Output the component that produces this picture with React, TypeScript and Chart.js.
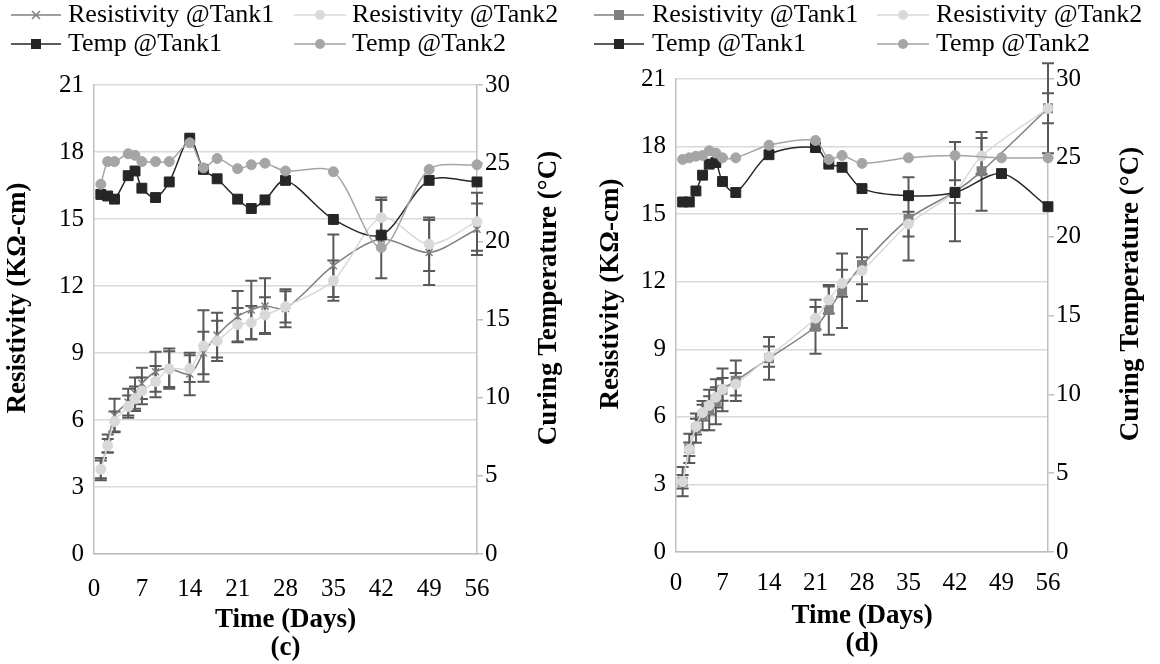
import React, { useEffect, useRef } from 'react';
import { Chart, registerables } from 'chart.js';

Chart.register(...registerables);

// ---------- data ----------
const xTickValues = [0, 7, 14, 21, 28, 35, 42, 49, 56];
const leftTickValues = [0, 3, 6, 9, 12, 15, 18, 21];
const rightTickValues = [0, 5, 10, 15, 20, 25, 30];

const seriesNames = ['Resistivity @Tank1', 'Resistivity @Tank2', 'Temp @Tank1', 'Temp @Tank2'];

// panel (c)
const daysC = [1, 2, 3, 5, 6, 7, 9, 11, 14, 16, 18, 21, 23, 25, 28, 35, 42, 49, 56];
const resC1 = [3.8, 4.95, 6.2, 6.8, 7.2, 7.64, 8.16, 8.3, 8.06, 9.0, 9.8, 10.63, 10.93, 11.1, 11.0, 12.91, 14.1, 13.5, 14.54];
const resC2 = [3.79, 4.85, 5.93, 6.6, 6.95, 7.3, 7.72, 8.28, 8.3, 9.31, 9.54, 10.27, 10.36, 10.7, 11.07, 12.24, 15.06, 13.87, 14.88];
const errC1 = [0.5, 0.4, 0.75, 0.6, 0.7, 0.7, 0.9, 0.9, 0.95, 0.95, 1.0, 1.15, 1.3, 1.25, 0.85, 1.4, 1.75, 1.45, 1.15];
const errC2 = [0.4, 0.3, 0.45, 0.5, 0.55, 0.6, 0.7, 0.8, 0.6, 1.6, 0.9, 0.75, 0.75, 0.8, 0.7, 0.9, 0.9, 1.2, 1.3];
const tempC1 = [23.0, 22.9, 22.7, 24.2, 24.5, 23.4, 22.8, 23.8, 26.6, 24.6, 24.0, 22.7, 22.1, 22.65, 23.9, 21.4, 20.4, 23.9, 23.8];
const tempC2 = [23.65, 25.1, 25.1, 25.6, 25.5, 25.1, 25.1, 25.1, 26.3, 24.7, 25.3, 24.65, 24.9, 25.0, 24.5, 24.45, 19.6, 24.6, 24.9];

// panel (d)
const daysDRes = [1, 2, 3, 4, 5, 6, 7, 9, 14, 21, 23, 25, 28, 35, 42, 46, 56];
const resD1 = [3.12, 4.6, 5.5, 6.05, 6.3, 6.67, 7.2, 7.6, 8.6, 10.0, 10.75, 11.6, 12.74, 14.79, 16.0, 16.9, 19.7];
const resD2 = [3.12, 4.56, 5.57, 6.19, 6.51, 6.87, 7.22, 7.45, 8.67, 10.38, 11.19, 11.93, 12.49, 14.56, 16.0, 17.58, 19.7];
const errD1 = [0.65, 0.65, 0.65, 0.65, 0.9, 1.0, 0.95, 0.9, 0.95, 1.2, 1.1, 1.65, 1.6, 1.85, 2.2, 1.75, 2.0];
const errD2 = [0.3, 0.3, 0.35, 0.35, 0.4, 0.45, 0.5, 0.5, 0.45, 0.5, 0.6, 0.6, 0.6, 0.55, 0.5, 0.8, 0.67];
const daysDTemp = [1, 2, 3, 4, 5, 6, 7, 9, 14, 21, 23, 25, 28, 35, 42, 49, 56];
const tempD1 = [22.2, 22.2, 22.9, 23.9, 24.6, 24.7, 23.5, 22.8, 25.2, 25.65, 24.6, 24.4, 23.05, 22.6, 22.8, 24.0, 21.9];
const tempD2 = [24.9, 25.0, 25.1, 25.15, 25.45, 25.3, 25.0, 25.0, 25.8, 26.1, 24.9, 25.15, 24.65, 25.0, 25.15, 25.0, 25.0];

// ---------- styles ----------
const FONT = '"Liberation Serif", "Times New Roman", serif';
const C_R1 = '#7f7f7f';
const C_R2 = '#d9d9d9';
const C_T1 = '#262626';
const C_T2 = '#a5a5a5';
const C_ERR = '#595959';
const C_GRID = '#d9d9d9';
const C_AXIS = '#bfbfbf';

const pts = (xs: number[], ys: number[]) => xs.map((x, i) => ({ x, y: ys[i] }));

const errorBarPlugin = {
  id: 'errorBars',
  beforeDatasetsDraw(chart: any) {
    const ctx = chart.ctx;
    chart.data.datasets.forEach((ds: any) => {
      const errs: number[] | undefined = ds.errors;
      if (!errs) return;
      const ys = chart.scales[ds.yAxisID];
      const xs = chart.scales.x;
      ctx.save();
      ctx.strokeStyle = C_ERR;
      ctx.lineWidth = 2;
      ds.data.forEach((p: any, j: number) => {
        const x = xs.getPixelForValue(p.x);
        const yt = ys.getPixelForValue(p.y + errs[j]);
        const yb = ys.getPixelForValue(p.y - errs[j]);
        ctx.beginPath();
        ctx.moveTo(x, yt); ctx.lineTo(x, yb);
        ctx.moveTo(x - 6, yt); ctx.lineTo(x + 6, yt);
        ctx.moveTo(x - 6, yb); ctx.lineTo(x + 6, yb);
        ctx.stroke();
      });
      ctx.restore();
    });
  },
};

function drawMarker(ctx: CanvasRenderingContext2D, style: string, x: number, y: number, color: string) {
  ctx.save();
  ctx.fillStyle = color;
  ctx.strokeStyle = color;
  if (style === 'crossRot') {
    ctx.lineWidth = 1.5;
    ctx.beginPath();
    ctx.moveTo(x - 4, y - 4); ctx.lineTo(x + 4, y + 4);
    ctx.moveTo(x + 4, y - 4); ctx.lineTo(x - 4, y + 4);
    ctx.stroke();
  } else if (style === 'rect') {
    ctx.fillRect(x - 5, y - 5, 10, 10);
  } else {
    ctx.beginPath();
    ctx.arc(x, y, 5, 0, Math.PI * 2);
    ctx.fill();
  }
  ctx.restore();
}

const decorPlugin = {
  id: 'decor',
  afterDraw(chart: any, _args: any, opts: any) {
    const ctx: CanvasRenderingContext2D = chart.ctx;
    const area = chart.chartArea;
    ctx.save();
    // legend
    ctx.font = `${opts.legendSize}px ${FONT}`;
    ctx.textBaseline = 'middle';
    ctx.textAlign = 'left';
    opts.legendItems.forEach((it: any, i: number) => {
      const row = Math.floor(i / 2);
      const col = opts.legendCols[i % 2];
      const y = opts.legendRows[row];
      ctx.strokeStyle = it.color;
      ctx.lineWidth = 1.5;
      ctx.beginPath();
      ctx.moveTo(col.x0, y); ctx.lineTo(col.x1, y);
      ctx.stroke();
      drawMarker(ctx, it.style, (col.x0 + col.x1) / 2, y, it.color);
      ctx.fillStyle = '#000';
      ctx.fillText(it.label, col.tx, y);
    });
    // axis titles
    ctx.font = `bold ${opts.titleSize}px ${FONT}`;
    ctx.textAlign = 'center';
    ctx.save();
    ctx.translate(opts.leftTitleX, opts.titleCY);
    ctx.rotate(-Math.PI / 2);
    ctx.fillText(opts.leftTitle, 0, 0);
    ctx.restore();
    ctx.save();
    ctx.translate(opts.rightTitleX, opts.titleCY);
    ctx.rotate(-Math.PI / 2);
    ctx.fillText(opts.rightTitle, 0, 0);
    ctx.restore();
    const cx = (area.left + area.right) / 2;
    ctx.fillText(opts.xTitle, cx, opts.xTitleY);
    ctx.fillText(opts.caption, cx, opts.captionY);
    ctx.restore();
  },
};

type PanelSpec = {
  res1: { x: number; y: number }[];
  res2: { x: number; y: number }[];
  err1: number[];
  err2: number[];
  t1: { x: number; y: number }[];
  t2: { x: number; y: number }[];
  r1Style: string;
  r1Radius: number;
  top: number;
  yw: number;
  y2w: number;
  xh: number;
  xpad: number;
  decor: any;
};

function buildConfig(p: PanelSpec): any {
  const tickFont = { family: FONT, size: 25 };
  return {
    type: 'line',
    data: {
      datasets: [
        {
          label: seriesNames[0], data: p.res1, errors: p.err1, yAxisID: 'y', order: 4,
          borderColor: C_R1, backgroundColor: C_R1, borderWidth: 1.5,
          pointStyle: p.r1Style, pointRadius: p.r1Radius, pointBorderColor: C_R1, pointBackgroundColor: C_R1, pointBorderWidth: 1.5,
          tension: 0.3, clip: false,
        },
        {
          label: seriesNames[1], data: p.res2, errors: p.err2, yAxisID: 'y', order: 3,
          borderColor: C_R2, backgroundColor: C_R2, borderWidth: 1.5,
          pointStyle: 'circle', pointRadius: 5, pointBorderColor: C_R2, pointBackgroundColor: C_R2, pointBorderWidth: 1,
          tension: 0.3, clip: false,
        },
        {
          label: seriesNames[2], data: p.t1, yAxisID: 'y2', order: 2,
          borderColor: C_T1, backgroundColor: C_T1, borderWidth: 1.5,
          pointStyle: 'rect', pointRadius: 7, pointBorderColor: C_T1, pointBackgroundColor: C_T1, pointBorderWidth: 1,
          tension: 0.3, clip: false,
        },
        {
          label: seriesNames[3], data: p.t2, yAxisID: 'y2', order: 1,
          borderColor: C_T2, backgroundColor: C_T2, borderWidth: 1.5,
          pointStyle: 'circle', pointRadius: 5, pointBorderColor: C_T2, pointBackgroundColor: C_T2, pointBorderWidth: 1,
          tension: 0.3, clip: false,
        },
      ],
    },
    options: {
      animation: false,
      responsive: false,
      events: [],
      layout: { padding: { top: p.top, left: 0, right: 0, bottom: 0 } },
      plugins: {
        legend: { display: false },
        tooltip: { enabled: false },
        decor: p.decor,
      },
      scales: {
        x: {
          type: 'linear', min: 0, max: 56,
          afterFit: (s: any) => { s.height = p.xh; },
          afterBuildTicks: (s: any) => { s.ticks = xTickValues.map((v) => ({ value: v })); },
          grid: { display: false, drawTicks: false },
          border: { display: true, color: C_AXIS, width: 1.5 },
          ticks: { padding: p.xpad, color: '#000', font: tickFont, maxRotation: 0, autoSkip: false },
        },
        y: {
          type: 'linear', position: 'left', min: 0, max: 21,
          afterFit: (s: any) => { s.width = p.yw; },
          afterBuildTicks: (s: any) => { s.ticks = leftTickValues.map((v) => ({ value: v })); },
          grid: { color: C_GRID, lineWidth: 1.5, drawTicks: false },
          border: { display: true, color: C_AXIS, width: 1.5 },
          ticks: { padding: 10, color: '#000', font: tickFont },
        },
        y2: {
          type: 'linear', position: 'right', min: 0, max: 30,
          afterFit: (s: any) => { s.width = p.y2w; },
          afterBuildTicks: (s: any) => { s.ticks = rightTickValues.map((v) => ({ value: v })); },
          grid: { drawOnChartArea: false, drawTicks: true, tickLength: 6, color: C_AXIS, lineWidth: 1.5 },
          border: { display: true, color: C_AXIS, width: 1.5 },
          ticks: { padding: 2, color: '#000', font: tickFont },
        },
      },
    },
    plugins: [errorBarPlugin, decorPlugin],
  };
}

const legendC = [
  { label: seriesNames[0], color: C_R1, style: 'crossRot' },
  { label: seriesNames[1], color: C_R2, style: 'circle' },
  { label: seriesNames[2], color: C_T1, style: 'rect' },
  { label: seriesNames[3], color: C_T2, style: 'circle' },
];
const legendD = [
  { label: seriesNames[0], color: C_R1, style: 'rect' },
  { label: seriesNames[1], color: C_R2, style: 'circle' },
  { label: seriesNames[2], color: C_T1, style: 'rect' },
  { label: seriesNames[3], color: C_T2, style: 'circle' },
];

const panelC: PanelSpec = {
  res1: pts(daysC, resC1), res2: pts(daysC, resC2), err1: errC1, err2: errC2,
  t1: pts(daysC, tempC1), t2: pts(daysC, tempC2),
  r1Style: 'crossRot', r1Radius: 5,
  top: 85, yw: 94, y2w: 103, xh: 110, xpad: 20,
  decor: {
    legendItems: legendC, legendSize: 26, legendRows: [15, 44],
    legendCols: [{ x0: 11, x1: 61, tx: 68 }, { x0: 294, x1: 346, tx: 352 }],
    titleSize: 27, leftTitle: 'Resistivity (KΩ-cm)', rightTitle: 'Curing Temperature (°C)',
    leftTitleX: 18, rightTitleX: 549, titleCY: 298,
    xTitle: 'Time (Days)', xTitleY: 620, caption: '(c)', captionY: 648,
  },
};

const panelD: PanelSpec = {
  res1: pts(daysDRes, resD1), res2: pts(daysDRes, resD2), err1: errD1, err2: errD2,
  t1: pts(daysDTemp, tempD1), t2: pts(daysDTemp, tempD2),
  r1Style: 'rect', r1Radius: 6,
  top: 79, yw: 96, y2w: 112, xh: 112, xpad: 16,
  decor: {
    legendItems: legendD, legendSize: 26, legendRows: [15, 44],
    legendCols: [{ x0: 14, x1: 64, tx: 72 }, { x0: 297, x1: 349, tx: 356 }],
    titleSize: 27, leftTitle: 'Resistivity (KΩ-cm)', rightTitle: 'Curing Temperature (°C)',
    leftTitleX: 31, rightTitleX: 551, titleCY: 294,
    xTitle: 'Time (Days)', xTitleY: 616, caption: '(d)', captionY: 644,
  },
};

function Panel({ spec, left }: { spec: PanelSpec; left: number }) {
  const ref = useRef<HTMLCanvasElement | null>(null);
  useEffect(() => {
    if (!ref.current) return;
    const chart = new Chart(ref.current, buildConfig(spec));
    return () => chart.destroy();
  }, [spec]);
  return (
    <canvas
      ref={ref}
      width={580}
      height={664}
      style={{ position: 'absolute', left, top: 0, width: 580, height: 664 }}
    />
  );
}

export default function App() {
  return (
    <div style={{ position: 'absolute', left: 0, top: 0, width: 1160, height: 664, background: '#fff' }}>
      <Panel spec={panelC} left={0} />
      <Panel spec={panelD} left={580} />
    </div>
  );
}
